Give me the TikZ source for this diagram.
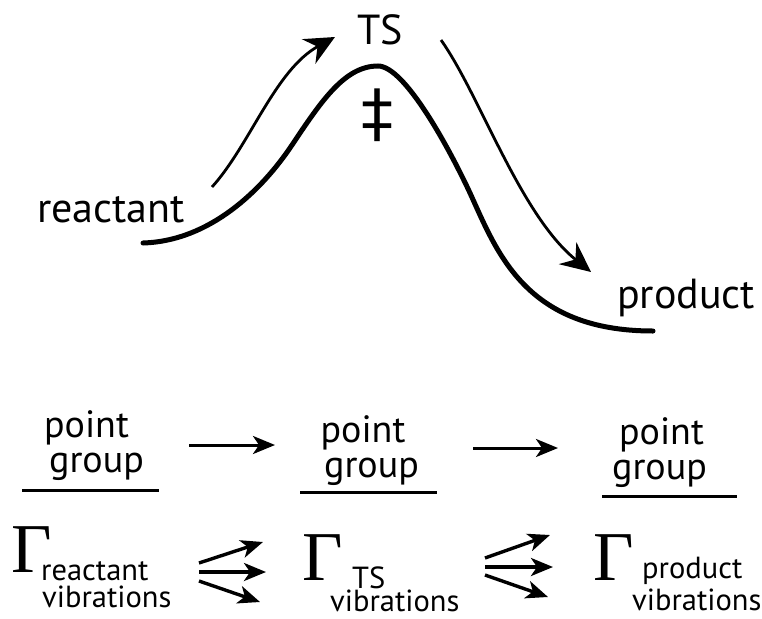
\documentclass[tikz,border=0pt]{standalone}
\usepackage{fontspec}
\setmainfont{PT Sans}
\newfontfamily\symfont{DejaVu Sans}
\newfontfamily\gamfont{Liberation Serif}
\usetikzlibrary{arrows.meta}
\begin{document}
\begin{tikzpicture}[x=1pt,y=-1pt,
  lbl/.style={inner sep=0pt,anchor=base west,font=\fontsize{42}{42}\selectfont},
  pg/.style={inner sep=0pt,anchor=base,font=\fontsize{38}{38}\selectfont},
  sub/.style={inner sep=0pt,anchor=base west,font=\fontsize{30.5}{30.5}\selectfont},
  gam/.style={inner sep=0pt,anchor=base west,font=\gamfont\fontsize{70}{70}\selectfont},
  curve/.style={line width=5pt,line cap=round},
  bigarrow/.style={line width=2.8pt,-{Stealth[length=30pt,width=28pt,inset=10pt]}},
  harrow/.style={line width=3pt,-{Stealth[length=22pt,width=18pt,inset=6pt]}},
  fan/.style={line width=3.4pt,-{Stealth[length=22pt,width=18pt,inset=6pt]}},
  uline/.style={line width=3pt}]
\useasboundingbox (0,0) rectangle (762,618);
% reaction profile
\coordinate (cs) at (143,243);
\coordinate (ci1) at (292,145);
\coordinate (peak) at (378,66);
\coordinate (ci2) at (470,193);
\coordinate (ce) at (653,331);
\draw[curve] (cs) .. controls (210,241) and (262,190) .. (ci1)
  .. controls (322,100) and (345,66) .. (peak)
  .. controls (405,66) and (450,150) .. (ci2)
  .. controls (497,252) and (525,331) .. (ce);
\coordinate (la) at (212,187); \coordinate (lb) at (335,37);
\coordinate (ra) at (441,40); \coordinate (rb) at (591,272);
\draw[bigarrow] (la) .. controls (250,145) and (275,70) .. (lb);
\draw[bigarrow] (ra) .. controls (480,95) and (520,215) .. (rb);
\node[lbl] (reactant) at (37,222) {reactant};
\node[lbl] (product) at (617,308) {product};
\node[lbl] (ts) at (357,45) {TS};
\node[inner sep=0pt,font=\symfont\fontsize{64}{64}\selectfont] (ddag) at (377,115) {‡};
% point groups
\node[pg] (p1) at (86.5,437) {point};
\node[pg] (g1) at (96.5,472) {group};
\node[pg] (p2) at (363,442) {point};
\node[pg] (g2) at (371.5,477) {group};
\node[pg] (p3) at (661.5,444) {point};
\node[pg] (g3) at (659.5,479) {group};
\coordinate (l1a) at (22,490); \coordinate (l1b) at (159,490);
\coordinate (l2a) at (300,492); \coordinate (l2b) at (437,492);
\coordinate (l3a) at (602,496); \coordinate (l3b) at (737,496);
\draw[uline] (l1a) -- (l1b);
\draw[uline] (l2a) -- (l2b);
\draw[uline] (l3a) -- (l3b);
\coordinate (a1s) at (189,445); \coordinate (a1e) at (275,445);
\coordinate (a2s) at (473,448); \coordinate (a2e) at (558,448);
\draw[harrow] (a1s) -- (a1e);
\draw[harrow] (a2s) -- (a2e);
% Gammas
\node[gam] (G1) at (11,572) {Γ};
\node[sub] (s1) at (41,580) {reactant};
\node[sub] (v1) at (42,607) {vibrations};
\node[gam] (G2) at (302,580) {Γ};
\node[sub] (s2) at (352,588) {TS};
\node[sub] (v2) at (330,611) {vibrations};
\node[gam] (G3) at (593,580) {Γ};
\node[sub] (s3) at (642,578) {product};
\node[sub] (v3) at (632,610) {vibrations};
% fans
\coordinate (f1a) at (199,563); \coordinate (f1A) at (263,542);
\coordinate (f1b) at (199,572); \coordinate (f1B) at (266,572);
\coordinate (f1c) at (199,581); \coordinate (f1C) at (260,602);
\draw[fan] (f1a) -- (f1A);
\draw[fan] (f1b) -- (f1B);
\draw[fan] (f1c) -- (f1C);
\coordinate (f2a) at (485,558); \coordinate (f2A) at (550,535);
\coordinate (f2b) at (485,567); \coordinate (f2B) at (553,567);
\coordinate (f2c) at (485,575); \coordinate (f2C) at (548,597);
\draw[fan] (f2a) -- (f2A);
\draw[fan] (f2b) -- (f2B);
\draw[fan] (f2c) -- (f2C);
\end{tikzpicture}
\end{document}
